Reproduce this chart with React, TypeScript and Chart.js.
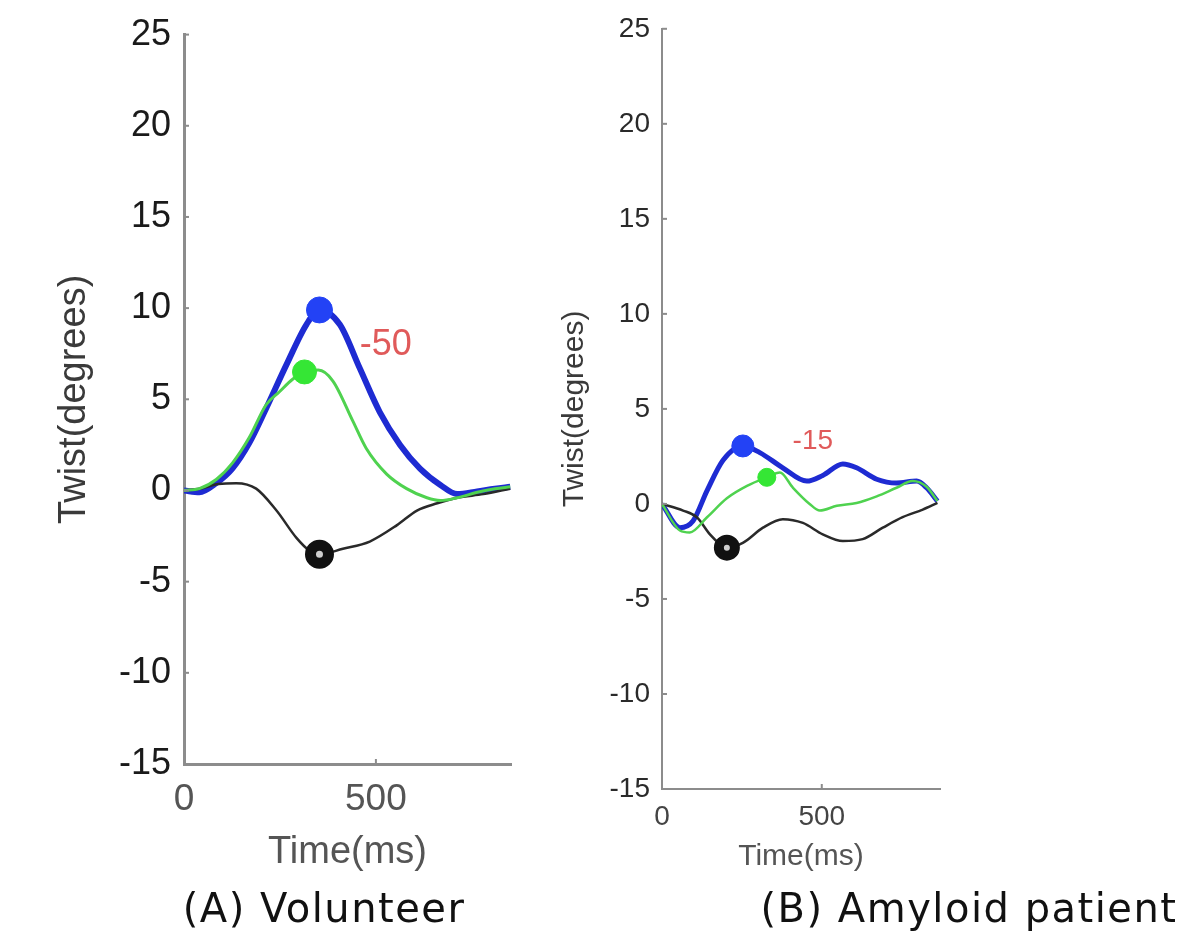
import React, { useEffect, useRef } from 'react';
import { Chart, registerables } from 'chart.js';
Chart.register(...registerables);

// ---------- shared axis data ----------
const yTickValues = [-15, -10, -5, 0, 5, 10, 15, 20, 25];
const xTickValues = [0, 500];

// ---------- Panel A : Volunteer ----------
const timeA_blue = [0, 40, 84, 126, 170, 214, 267, 319, 353, 406, 458, 510, 563, 615, 668, 712, 764, 810, 850];
const twistA_blue = [0, -0.1, 0.4, 1.2, 2.6, 4.5, 6.9, 9.1, 9.9, 9.1, 6.7, 4.3, 2.5, 1.2, 0.3, -0.2, -0.05, 0.1, 0.2];
const timeA_green = [0, 40, 84, 126, 170, 214, 248, 283, 314, 350, 388, 440, 475, 528, 580, 633, 668, 712, 764, 810, 850];
const twistA_green = [0, 0.1, 0.6, 1.5, 2.9, 4.7, 5.4, 6.1, 6.5, 6.6, 6.0, 3.8, 2.3, 0.9, 0.1, -0.4, -0.55, -0.4, -0.1, 0.1, 0.2];
const timeA_black = [0, 40, 90, 136, 188, 241, 293, 327, 353, 414, 484, 555, 607, 660, 712, 780, 850];
const twistA_black = [0, 0.1, 0.35, 0.4, 0.1, -1.1, -2.6, -3.3, -3.5, -3.2, -2.8, -1.9, -1.1, -0.7, -0.4, -0.2, 0.1];
const markerA_time = [353, 314, 353]; // blue, green, black
const markerA_twist = [9.9, 6.5, -3.5];
const labelA_text = ['-50'];
const labelA_time = [526];
const labelA_twist = [8.0];

// ---------- Panel B : Amyloid patient ----------
const timeB_blue = [0, 56, 97, 141, 191, 253, 306, 378, 453, 503, 566, 609, 672, 734, 797, 828, 862];
const twistB_blue = [0, -1.25, -0.9, 0.7, 2.3, 3.05, 2.7, 1.9, 1.2, 1.5, 2.1, 1.9, 1.3, 1.1, 1.2, 0.85, 0.15];
const timeB_green = [0, 56, 87, 141, 203, 266, 328, 369, 410, 462, 494, 547, 609, 672, 734, 784, 828, 862];
const twistB_green = [0, -1.4, -1.5, -0.7, 0.3, 0.95, 1.4, 1.65, 0.85, 0, -0.35, -0.1, 0.05, 0.4, 0.85, 1.2, 0.9, 0.15];
const timeB_black = [0, 66, 109, 150, 181, 203, 253, 316, 378, 441, 503, 566, 628, 691, 753, 816, 862];
const twistB_black = [0, -0.35, -0.7, -1.6, -2.1, -2.3, -2.05, -1.25, -0.8, -1.0, -1.6, -1.95, -1.85, -1.25, -0.7, -0.3, 0.05];
const markerB_time = [253, 328, 203];
const markerB_twist = [3.05, 1.4, -2.3];
const labelB_text = ['-15'];
const labelB_time = [472];
const labelB_twist = [3.3];

const zip = (xs: number[], ys: number[]) => xs.map((x, i) => ({ x, y: ys[i] }));

const BLUE_LINE = '#1e2bd2';
const BLUE_DOT = '#2342f5';
const GREEN_LINE = '#4fd24f';
const GREEN_DOT = '#35e635';
const BLACK = '#2a2a2a';
const AXIS = '#8c8c8c';
const RED = '#e05a5a';

type PanelCfg = {
  left: number; width: number;
  yWidth: number; xHeight: number;
  padding: { top: number; right: number; bottom: number; left: number };
  xMax: number;
  yTickFont: number; xTickFont: number; yTitleFont: number; xTitleFont: number;
  yTickPad: number; xTickPad: number; yTitlePad: number;
  yTickColor: string; xTickColor: string;
  axisWidth: number;
  blueW: number; greenW: number; blackW: number;
  rBlue: number; rGreen: number; rBlack: number; bwBlack: number;
  labelFont: number;
  blue: { x: number; y: number }[]; green: { x: number; y: number }[]; black: { x: number; y: number }[];
  mt: number[]; mv: number[];
  lt: string[]; lx: number[]; ly: number[];
};

function Panel({ cfg }: { cfg: PanelCfg }) {
  const ref = useRef<HTMLCanvasElement | null>(null);
  useEffect(() => {
    if (!ref.current) return;
    const annot = {
      id: 'annot',
      afterDatasetsDraw(chart: any) {
        const { ctx, scales } = chart;
        const xs = scales.x, ys = scales.y;
        ctx.save();
        // inward tick marks (MATLAB style)
        ctx.strokeStyle = AXIS;
        ctx.lineWidth = 2;
        const l = chart.chartArea.left, b = chart.chartArea.bottom;
        yTickValues.forEach((v) => {
          const py = ys.getPixelForValue(v);
          ctx.beginPath(); ctx.moveTo(l, py); ctx.lineTo(l + 5, py); ctx.stroke();
        });
        xTickValues.forEach((v) => {
          const px = xs.getPixelForValue(v);
          ctx.beginPath(); ctx.moveTo(px, b); ctx.lineTo(px, b - 5); ctx.stroke();
        });
        // value labels
        ctx.fillStyle = RED;
        ctx.font = `${cfg.labelFont}px "Liberation Sans", Arial, sans-serif`;
        ctx.textAlign = 'center';
        ctx.textBaseline = 'middle';
        cfg.lt.forEach((t, i) => {
          ctx.fillText(t, xs.getPixelForValue(cfg.lx[i]), ys.getPixelForValue(cfg.ly[i]));
        });
        ctx.restore();
      },
    };
    const font = '"Liberation Sans", Arial, sans-serif';
    const chart = new Chart(ref.current, {
      type: 'scatter',
      data: {
        datasets: [
          { data: [{ x: cfg.mt[0], y: cfg.mv[0] }], pointRadius: cfg.rBlue, pointBackgroundColor: BLUE_DOT, pointBorderColor: BLUE_DOT, pointBorderWidth: 1 },
          { data: [{ x: cfg.mt[1], y: cfg.mv[1] }], pointRadius: cfg.rGreen, pointBackgroundColor: GREEN_DOT, pointBorderColor: GREEN_DOT, pointBorderWidth: 1 },
          { data: [{ x: cfg.mt[2], y: cfg.mv[2] }], pointRadius: cfg.rBlack, pointBackgroundColor: '#cfcfcf', pointBorderColor: '#111', pointBorderWidth: cfg.bwBlack },
          { data: cfg.green, showLine: true, pointRadius: 0, borderColor: GREEN_LINE, borderWidth: cfg.greenW, tension: 0.4, cubicInterpolationMode: 'monotone' },
          { data: cfg.black, showLine: true, pointRadius: 0, borderColor: BLACK, borderWidth: cfg.blackW, tension: 0.4, cubicInterpolationMode: 'monotone' },
          { data: cfg.blue, showLine: true, pointRadius: 0, borderColor: BLUE_LINE, borderWidth: cfg.blueW, tension: 0.4, cubicInterpolationMode: 'monotone' },
        ] as any,
      },
      options: {
        animation: false,
        responsive: false,
        maintainAspectRatio: false,
        layout: { padding: cfg.padding },
        plugins: { legend: { display: false }, tooltip: { enabled: false } },
        scales: {
          x: {
            type: 'linear', min: 0, max: cfg.xMax,
            afterBuildTicks: (s: any) => { s.ticks = xTickValues.map((v) => ({ value: v })); },
            afterFit: (s: any) => { s.height = cfg.xHeight; },
            grid: { display: false, drawTicks: false, tickLength: 0 },
            border: { display: true, color: AXIS, width: cfg.axisWidth },
            ticks: { color: cfg.xTickColor, font: { family: font, size: cfg.xTickFont }, padding: cfg.xTickPad, maxRotation: 0 },
            title: { display: true, text: 'Time(ms)', color: '#555', font: { family: font, size: cfg.xTitleFont }, padding: { top: 0, bottom: 0 } },
          },
          y: {
            type: 'linear', min: -15, max: 25,
            afterBuildTicks: (s: any) => { s.ticks = yTickValues.map((v) => ({ value: v })); },
            afterFit: (s: any) => { s.width = cfg.yWidth; },
            grid: { display: false, drawTicks: false, tickLength: 0 },
            border: { display: true, color: AXIS, width: cfg.axisWidth },
            ticks: { color: cfg.yTickColor, font: { family: font, size: cfg.yTickFont }, padding: cfg.yTickPad },
            title: { display: true, text: 'Twist(degrees)', color: '#3a3a3a', font: { family: font, size: cfg.yTitleFont }, padding: { top: cfg.yTitlePad, bottom: 0 } },
          },
        },
      } as any,
      plugins: [annot],
    });
    return () => chart.destroy();
  }, [cfg]);
  return (
    <canvas
      ref={ref}
      width={cfg.width}
      height={944}
      style={{ position: 'absolute', left: cfg.left, top: 0, width: cfg.width, height: 944 }}
    />
  );
}

const cfgA: PanelCfg = {
  left: 0, width: 560, yWidth: 184, xHeight: 111,
  padding: { top: 30, right: 49, bottom: 69, left: 0 },
  xMax: 852,
  yTickFont: 36, xTickFont: 37, yTitleFont: 38, xTitleFont: 38,
  yTickPad: 13, xTickPad: 14, yTitlePad: 52,
  yTickColor: '#1a1a1a', xTickColor: '#555',
  axisWidth: 3,
  blueW: 6, greenW: 3, blackW: 2.5,
  rBlue: 13, rGreen: 12, rBlack: 9, bwBlack: 11,
  labelFont: 36,
  blue: zip(timeA_blue, twistA_blue), green: zip(timeA_green, twistA_green), black: zip(timeA_black, twistA_black),
  mt: markerA_time, mv: markerA_twist,
  lt: labelA_text, lx: labelA_time, ly: labelA_twist,
};

const cfgB: PanelCfg = {
  left: 540, width: 660, yWidth: 122, xHeight: 86,
  padding: { top: 28, right: 260, bottom: 69, left: 0 },
  xMax: 870,
  yTickFont: 28, xTickFont: 28, yTitleFont: 30, xTitleFont: 30,
  yTickPad: 12, xTickPad: 11, yTitlePad: 17,
  yTickColor: '#2a2a2a', xTickColor: '#444',
  axisWidth: 2,
  blueW: 5, greenW: 2.5, blackW: 2.5,
  rBlue: 11, rGreen: 9, rBlack: 8, bwBlack: 10,
  labelFont: 28,
  blue: zip(timeB_blue, twistB_blue), green: zip(timeB_green, twistB_green), black: zip(timeB_black, twistB_black),
  mt: markerB_time, mv: markerB_twist,
  lt: labelB_text, lx: labelB_time, ly: labelB_twist,
};

const captionStyle: React.CSSProperties = {
  position: 'absolute', top: 884, width: 600, textAlign: 'center',
  fontFamily: '"DejaVu Sans", Verdana, sans-serif', fontSize: 40, letterSpacing: 1.5,
  color: '#111', lineHeight: '48px', whiteSpace: 'nowrap',
};

export default function App() {
  return (
    <div style={{ position: 'absolute', left: 0, top: 0, width: 1200, height: 944, background: '#fff', overflow: 'hidden' }}>
      <Panel cfg={cfgA} />
      <Panel cfg={cfgB} />
      <div style={{ ...captionStyle, left: 323 - 300 + 1 }}>(A) Volunteer</div>
      <div style={{ ...captionStyle, left: 968 - 300 + 1 }}>(B) Amyloid patient</div>
    </div>
  );
}
